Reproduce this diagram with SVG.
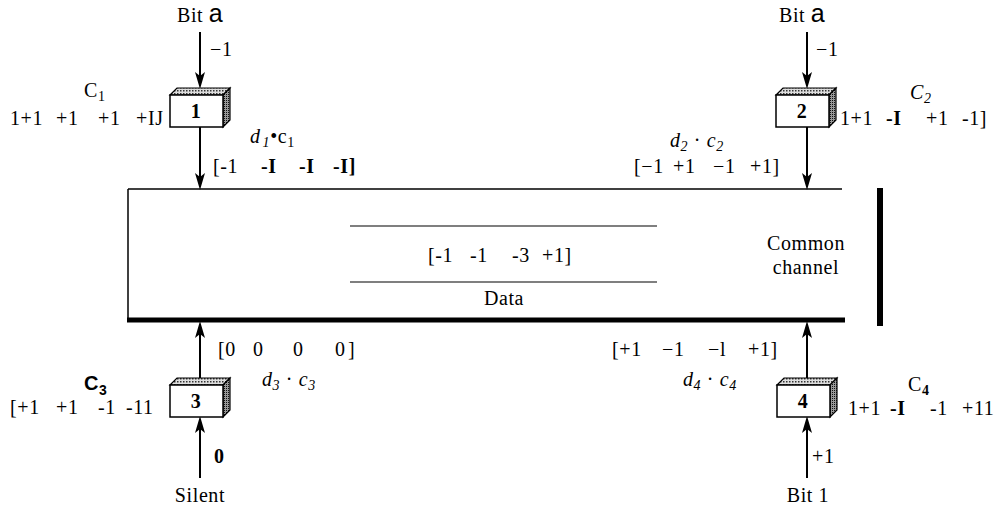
<svg xmlns="http://www.w3.org/2000/svg" width="1003" height="510" viewBox="0 0 1003 510">
<style>
text{font-family:"Liberation Serif","Times New Roman",serif;font-size:20px;letter-spacing:0.6px;fill:#000}
.b{font-weight:bold}
.i{font-style:italic}
.sub{font-size:14px}
.sans{font-family:"Liberation Sans",Arial,sans-serif}
.conn{stroke:#000;stroke-width:2;fill:none;marker-end:url(#ah)}
.front{fill:#fff;stroke:#000;stroke-width:1.5}
.top{fill:url(#stipL);stroke:#000;stroke-width:1.2}
.side{fill:url(#stipD);stroke:#000;stroke-width:1.2}
.num{font-weight:bold;text-anchor:middle}
.mid{text-anchor:middle}
</style>
<defs>
<marker id="ah" viewBox="0 0 17 10" refX="6" refY="5" markerWidth="17" markerHeight="10" markerUnits="userSpaceOnUse" orient="auto">
<path d="M0,0 L17,5 L0,10 L4,5 z" fill="#000"/>
</marker>
<pattern id="stipL" width="3" height="3" patternUnits="userSpaceOnUse">
<rect width="3" height="3" fill="#ddd"/><rect width="1.5" height="1.5" fill="#333"/>
</pattern>
<pattern id="stipD" width="2" height="2" patternUnits="userSpaceOnUse">
<rect width="2" height="2" fill="#999"/><rect width="1" height="1" fill="#111"/>
</pattern>
</defs>

<g id="channel">
<line x1="128" y1="189" x2="842" y2="189" stroke="#000" stroke-width="1.5"/>
<line x1="128" y1="189" x2="128" y2="321" stroke="#000" stroke-width="1.5"/>
<line x1="127" y1="320" x2="845" y2="320" stroke="#000" stroke-width="5"/>
<rect x="877" y="188" width="6" height="138" fill="#000"/>
<line x1="350" y1="226" x2="657" y2="226" stroke="#000" stroke-width="1.2"/>
<line x1="350" y1="282" x2="657" y2="282" stroke="#000" stroke-width="1.2"/>
<text y="262"><tspan x="428">[-1</tspan><tspan x="470">-1</tspan><tspan x="512">-3</tspan><tspan x="542">+1]</tspan></text>
<text x="504" y="305" class="mid">Data</text>
<text x="806" y="250" class="mid">Common</text>
<text x="806" y="274" class="mid">channel</text>
</g>

<g id="connectors">
<line class="conn" x1="200" y1="32" x2="200" y2="78"/>
<line class="conn" x1="200" y1="127" x2="200" y2="179"/>
<line class="conn" x1="807" y1="32" x2="807" y2="78"/>
<line class="conn" x1="807" y1="127" x2="807" y2="179"/>
<line class="conn" x1="200" y1="478" x2="200" y2="427"/>
<line class="conn" x1="200" y1="378" x2="200" y2="332"/>
<line class="conn" x1="807" y1="478" x2="807" y2="427"/>
<line class="conn" x1="807" y1="378" x2="807" y2="332"/>
</g>

<g id="node1">
<polygon class="top" points="170,95 177,88 230,88 223,95"/>
<polygon class="side" points="223,95 230,88 230,120 223,127"/>
<rect class="front" x="170" y="95" width="53" height="32"/>
<text x="196" y="118" class="num">1</text>
<text x="177" y="22">Bit <tspan font-size="25" font-family="Liberation Sans, Arial, sans-serif">a</tspan></text>
<text x="210" y="56">−1</text>
<text x="84" y="97">C<tspan class="sub" dy="4">1</tspan></text>
<text y="125"><tspan x="10">1+1</tspan><tspan x="56">+1</tspan><tspan x="98">+1</tspan><tspan x="136">+IJ</tspan></text>
<text x="250" y="143" class="i">d<tspan class="sub" dy="4" dx="2">1</tspan><tspan dy="-4" font-style="normal">•</tspan><tspan font-style="normal">c</tspan><tspan class="sub" dy="4" font-style="normal">1</tspan></text>
<text y="173"><tspan x="213">[-1</tspan><tspan x="261" class="b">-I</tspan><tspan x="299" class="b">-I</tspan><tspan x="333" class="b">-I]</tspan></text>
</g>

<g id="node2">
<polygon class="top" points="776,95 783,88 836,88 829,95"/>
<polygon class="side" points="829,95 836,88 836,120 829,127"/>
<rect class="front" x="776" y="95" width="53" height="32"/>
<text x="802" y="118" class="num">2</text>
<text x="779" y="22">Bit <tspan font-size="25" font-family="Liberation Sans, Arial, sans-serif">a</tspan></text>
<text x="816" y="56">−1</text>
<text x="910" y="99" class="i">C<tspan class="sub" dy="4">2</tspan></text>
<text y="125"><tspan x="840">1+1</tspan><tspan x="886" class="b">-I</tspan><tspan x="926">+1</tspan><tspan x="962">-1]</tspan></text>
<text x="670" y="147" class="i">d<tspan class="sub" dy="4">2</tspan><tspan dy="-4" font-style="normal"> · </tspan>c<tspan class="sub" dy="4">2</tspan></text>
<text y="173"><tspan x="634">[−1</tspan><tspan x="673">+1</tspan><tspan x="713">−1</tspan><tspan x="750">+1]</tspan></text>
</g>

<g id="node3">
<polygon class="top" points="170,385 177,378 230,378 223,385"/>
<polygon class="side" points="223,385 230,378 230,410 223,417"/>
<rect class="front" x="170" y="385" width="53" height="32"/>
<text x="196" y="408" class="num">3</text>
<text x="84" y="390" class="sans b" font-size="17">C<tspan class="sub" dy="5">3</tspan></text>
<text y="414"><tspan x="10">[+1</tspan><tspan x="56">+1</tspan><tspan x="98">-1</tspan><tspan x="126">-11</tspan></text>
<text y="356"><tspan x="218">[0</tspan><tspan x="253">0</tspan><tspan x="293">0</tspan><tspan x="335">0</tspan><tspan x="348">]</tspan></text>
<text x="262" y="386" class="i">d<tspan class="sub" dy="4">3</tspan><tspan dy="-4" font-style="normal"> · </tspan>c<tspan class="sub" dy="4">3</tspan></text>
<text x="214" y="463" class="b">0</text>
<text x="200" y="502" class="mid">Silent</text>
</g>

<g id="node4">
<polygon class="top" points="777,385 784,378 837,378 830,385"/>
<polygon class="side" points="830,385 837,378 837,410 830,417"/>
<rect class="front" x="777" y="385" width="53" height="32"/>
<text x="803" y="408" class="num">4</text>
<text x="908" y="391">C<tspan class="sub b" dy="4">4</tspan></text>
<text y="415"><tspan x="848">1+1</tspan><tspan x="890" class="b">-I</tspan><tspan x="930">-1</tspan><tspan x="962">+11</tspan></text>
<text y="356"><tspan x="612">[+1</tspan><tspan x="662">−1</tspan><tspan x="708">−l</tspan><tspan x="748">+1]</tspan></text>
<text x="683" y="386" class="i">d<tspan class="sub" dy="4">4</tspan><tspan dy="-4" font-style="normal"> · </tspan>c<tspan class="sub" dy="4">4</tspan></text>
<text x="812" y="463">+1</text>
<text x="808" y="502" class="mid">Bit 1</text>
</g>
</svg>
